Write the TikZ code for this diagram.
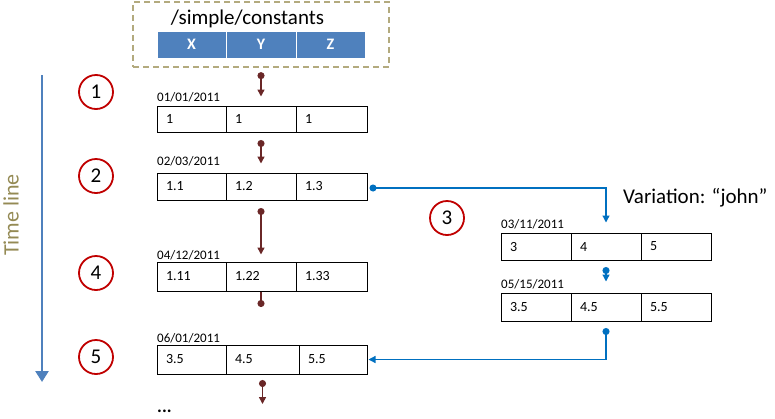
\documentclass[tikz,border=0pt]{standalone}
\usepackage{fontspec}
\setmainfont{Carlito}
\usetikzlibrary{arrows.meta}
\definecolor{hdrblue}{HTML}{4F81BD}
\definecolor{boxtan}{HTML}{B3AA7E}
\definecolor{brn}{HTML}{6A2727}
\definecolor{lnblue}{HTML}{0070C0}
\definecolor{circred}{HTML}{C00000}
\definecolor{tlolive}{HTML}{948A54}
\begin{document}
\begin{tikzpicture}[x=1pt,y=-1pt,
  cell/.style={draw=black, line width=1pt, minimum height=27pt, inner xsep=9pt, inner ysep=0pt,
    align=left, font=\fontsize{14}{16}\selectfont},
  c70/.style={cell, text width=52pt},
  hdr/.style={fill=hdrblue, draw=white, line width=1pt, minimum height=27pt, text=white,
    font=\fontsize{16}{18}\selectfont\bfseries, inner sep=0pt},
  datelbl/.style={anchor=west, inner sep=0pt, font=\fontsize{13}{15}\selectfont},
  numc/.style={circle, draw=circred, line width=1.8pt, minimum size=34pt, inner sep=0pt,
    font=\fontsize{21}{23}\selectfont},
  brar/.style={brn, line width=1.5pt, {Circle[length=7pt]}-{Triangle[width=7pt,length=7pt]}},
  blar/.style={lnblue, line width=1.3pt, {Circle[length=7pt]}-{Triangle[width=7pt,length=7pt]}},
  dashbox/.style={draw=boxtan, line width=1.3pt, dash pattern=on 6pt off 4pt, inner sep=0pt}
]
\useasboundingbox (0,0) rectangle (775,418);

% top dashed box with header
\node[dashbox, minimum width=256pt, minimum height=65pt] (top) at (261,34.5) {};
\node[inner sep=0pt, font=\fontsize{21}{24}\selectfont] (title) at (247.5,19) {/simple/constants};
\node[hdr, minimum width=69pt] (hx) at (191.5,44.5) {X};
\node[hdr, minimum width=70pt] (hy) at (261,44.5) {Y};
\node[hdr, minimum width=69pt] (hz) at (330.5,44.5) {Z};

% time line
\coordinate (tl0) at (42,75);
\coordinate (tl1) at (42,382);
\draw[hdrblue, line width=2.5pt, -{Triangle[width=13pt,length=11pt]}] (tl0) -- (tl1);
\node[rotate=90, text=tlolive, inner sep=0pt, font=\fontsize{22}{24}\selectfont] (tl) at (11,215) {Time line};

% numbered circles
\node[numc] (n1) at (96,92) {1};
\node[numc] (n2) at (96,176) {2};
\node[numc] (n3) at (447,218) {3};
\node[numc] (n4) at (96,273) {4};
\node[numc] (n5) at (96,357) {5};

% row 1
\node[datelbl] (d1) at (157,97) {01/01/2011};
\node[c70, minimum height=26pt, text width=51pt] (r1a) at (191.5,119) {1};
\node[c70, minimum height=26pt] (r1b) at (261,119) {1};
\node[c70, minimum height=26pt, text width=53pt] (r1c) at (331.5,119) {1};

% row 2
\node[datelbl] (d2) at (157,161) {02/03/2011};
\node[c70, text width=51pt] (r2a) at (191.5,186.5) {1.1};
\node[c70] (r2b) at (261,186.5) {1.2};
\node[c70, text width=53pt] (r2c) at (331.5,186.5) {1.3};

% row 4
\node[datelbl] (d4) at (157,255) {04/12/2011};
\node[c70, minimum height=29pt, text width=51pt] (r4a) at (191.5,276.5) {1.11};
\node[c70, minimum height=29pt] (r4b) at (261,276.5) {1.22};
\node[c70, minimum height=29pt, text width=53pt] (r4c) at (331.5,276.5) {1.33};

% row 5
\node[datelbl] (d5) at (157,338) {06/01/2011};
\node[c70, minimum height=29pt, text width=51pt] (r5a) at (191.5,359.5) {3.5};
\node[c70, minimum height=29pt, text width=55pt] (r5b) at (262.5,359.5) {4.5};
\node[c70, minimum height=29pt, text width=50pt] (r5c) at (333,359.5) {5.5};

% variation rows
\node[anchor=west, inner sep=0pt, font=\fontsize{21}{24}\selectfont] (var) at (623,198) {Variation: “john”};
\node[datelbl] (dva) at (501,224) {03/11/2011};
\node[c70] (va1) at (536,246.5) {3};
\node[c70] (va2) at (606,246.5) {4};
\node[c70] (va3) at (676,246.5) {5};
\node[datelbl] (dvb) at (501,284) {05/15/2011};
\node[c70, minimum height=28pt] (vb1) at (536,307) {3.5};
\node[c70, minimum height=28pt] (vb2) at (606,307) {4.5};
\node[c70, minimum height=28pt] (vb3) at (676,307) {5.5};

% ellipsis
\node[anchor=west, inner sep=0pt, font=\fontsize{18}{20}\selectfont\bfseries] (dots) at (157,411) {...};

% brown connectors
\draw[brar] ([yshift=-4.5pt]top.south) -- ([yshift=9pt]r1b.north);
\draw[brar] ([yshift=-7.5pt]r1b.south) -- ([yshift=9pt]r2b.north);
\draw[brar] ([yshift=-7.5pt]r2b.south) -- ([yshift=7pt]r4b.north);
\coordinate (e4) at (261,307);
\draw[brn, line width=1.5pt, -{Circle[length=7pt]}] (r4b.south) -- (e4);
\coordinate (e5) at (262.5,404);
\draw[brar] ([yshift=-5.5pt]r5b.south) -- (e5);

% blue connectors
\draw[blar] ([xshift=2pt,yshift=-1.5pt]r2c.east) -| ([yshift=10pt]va2.north);
\draw[blar] ([yshift=-6.5pt]va2.south) -- ([yshift=11pt]vb2.north);
\draw[blar] ([yshift=-6.5pt]vb2.south) |- ([xshift=1pt]r5c.east);
\end{tikzpicture}
\end{document}
